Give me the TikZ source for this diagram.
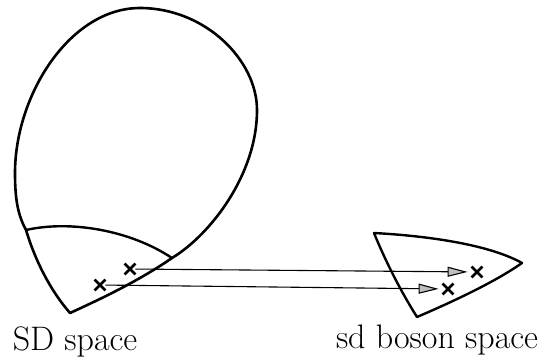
\documentclass[tikz,border=0pt]{standalone}
\usetikzlibrary{shapes.misc, arrows.meta}

\begin{document}
\begin{tikzpicture}[x=1pt, y=-1pt, line join=round,
    xmark/.style={cross out, draw, line width=2.8pt, minimum size=8pt, inner sep=0pt},
    map/.style={-{Triangle[length=20pt, width=10pt, fill=gray!50]}, line width=1.1pt, shorten >=4pt},
    spacelabel/.style={anchor=base, font=\fontsize{34}{38}\selectfont}]
    \useasboundingbox (0,0) rectangle (544,360);

    % SD space (the big loop and its corner piece)
    \draw[line width=2.6pt] (70,313) .. controls (105,297) and (140,280) .. (172,258)
        .. controls (210,235) and (257,175) .. (257,110)
        .. controls (257,60) and (205,8) .. (140,8)
        .. controls (70,8) and (15,95) .. (15,173)
        .. controls (15,200) and (18,215) .. (26,230)
        .. controls (35,260) and (50,290) .. cycle;
    \draw[line width=2.4pt] (26,230) .. controls (70,220) and (130,230) .. (172,258);

    % sd boson space
    \draw[line width=2.4pt] (374,233) .. controls (430,236) and (490,245) .. (522,263)
        .. controls (495,282) and (452,302) .. (417,317)
        .. controls (400,290) and (385,260) .. cycle;

    \node (sda) [xmark] at (130,269) {};
    \node (sdb) [xmark] at (100,285) {};
    \node (bosa) [xmark] at (477,272) {};
    \node (bosb) [xmark] at (448,289) {};

    \draw[map] (sda) -- (bosa);
    \draw[map] (sdb) -- (bosb);

    \node (sdname) [spacelabel] at (75,350) {SD space};
    \node (bosname) [spacelabel] at (437,348) {sd boson space};
\end{tikzpicture}
\end{document}
